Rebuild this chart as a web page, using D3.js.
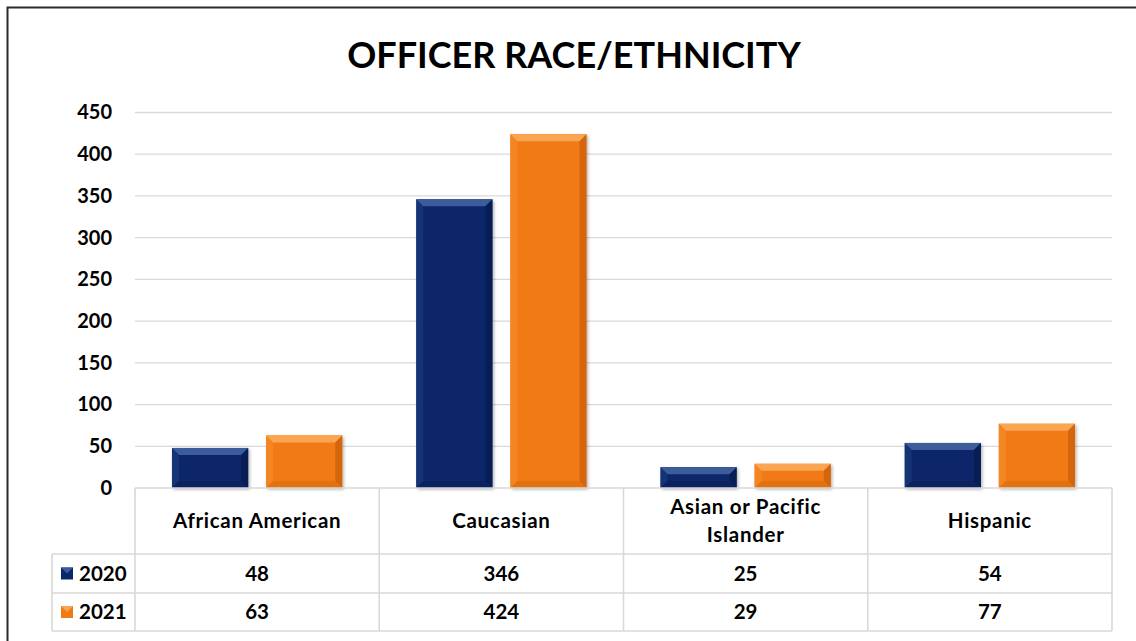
<!DOCTYPE html>
<html><head><meta charset="utf-8">
<script src="https://cdn.jsdelivr.net/npm/d3@7"></script>
<style>
html,body{margin:0;padding:0;background:#fff;}
text{font-family:Lato,"Open Sans",sans-serif;font-weight:700;fill:#000;}
</style></head>
<body><svg id="c" width="1136" height="641"></svg>
<script>
const categories = [["African American"], ["Caucasian"], ["Asian or Pacific", "Islander"], ["Hispanic"]];
const seriesNames = ["2020", "2021"];
const values2020 = [48, 346, 25, 54];
const values2021 = [63, 424, 29, 77];
const yTicks = [0, 50, 100, 150, 200, 250, 300, 350, 400, 450];
const chartTitle = "OFFICER RACE/ETHNICITY";

(function(){
const seriesValues = [values2020, values2021];
const colors = [
  {main:"#0a2869", top:"#3c5c9c", left:"#1a3a7c", right:"#061a4a", bottom:"#08205a"},
  {main:"#f17a15", top:"#f9a552", left:"#f58a2a", right:"#c65e08", bottom:"#d96a0c"}
];

const svg = d3.select("#c");
const pLeft = 135, pRight = 1112, pTop = 112.5, base = 488;

// border
svg.append("rect").attr("x",7.5).attr("y",7.5).attr("width",1140).attr("height",650)
  .attr("fill","none").attr("stroke","#2b2b2b").attr("stroke-width",2);

// title
svg.append("text").attr("x",574).attr("y",68).attr("text-anchor","middle")
  .style("font-size","36px").text(chartTitle);

const y = d3.scaleLinear().domain([0,450]).range([base, pTop]);
const x0 = d3.scaleBand().domain(d3.range(categories.length)).range([pLeft,pRight]).padding(0);
const x1 = d3.scaleBand().domain(d3.range(seriesNames.length)).range([0,x0.bandwidth()])
  .paddingInner(0.19).paddingOuter(0.393);

// gridlines
svg.append("g").selectAll("line").data(yTicks.filter(d=>d>0)).join("line")
  .attr("x1",pLeft).attr("x2",pRight).attr("y1",d=>y(d)).attr("y2",d=>y(d))
  .attr("stroke","#d9d9d9").attr("stroke-width",1.3);

// y axis labels
const yAxis = svg.append("g").attr("transform",`translate(${pLeft},0)`)
  .call(d3.axisLeft(y).tickValues(yTicks).tickSize(0).tickPadding(23));
yAxis.select(".domain").remove();
yAxis.selectAll("text").style("font-size","20px").style("font-family","Lato").style("font-weight","700").attr("fill","#000");

// shadow
const defs = svg.append("defs");
const f = defs.append("filter").attr("id","sh").attr("x","-20%").attr("y","-20%").attr("width","140%").attr("height","140%");
f.append("feDropShadow").attr("dx",1.5).attr("dy",1.5).attr("stdDeviation",1.8).attr("flood-color","#000").attr("flood-opacity",0.3);

// bars with bevel
const bev = 7;
categories.forEach((c,i)=>{
  seriesValues.forEach((vals,s)=>{
    const bx = x0(i)+x1(s), bw = x1.bandwidth();
    const by = y(vals[i]), bh = base - by;
    const col = colors[s];
    const g = svg.append("g");
    g.append("rect").attr("x",bx).attr("y",by).attr("width",bw).attr("height",bh)
      .attr("fill",col.main).attr("filter","url(#sh)");
    const b = Math.min(bev, bh/2, bw/2);
    g.append("path").attr("d",`M${bx},${by}L${bx+bw},${by}L${bx+bw-b},${by+b}L${bx+b},${by+b}Z`).attr("fill",col.top);
    g.append("path").attr("d",`M${bx},${by}L${bx+b},${by+b}L${bx+b},${base-b}L${bx},${base}Z`).attr("fill",col.left).attr("opacity",0.7);
    g.append("path").attr("d",`M${bx+bw},${by}L${bx+bw-b},${by+b}L${bx+bw-b},${base-b}L${bx+bw},${base}Z`).attr("fill",col.right).attr("opacity",0.7);
    g.append("path").attr("d",`M${bx},${base}L${bx+b},${base-b}L${bx+bw-b},${base-b}L${bx+bw},${base}Z`).attr("fill",col.bottom).attr("opacity",0.6);
  });
});

// data table
const rowH = [488, 554, 593, 631];
const legLeft = 52;
const tg = svg.append("g").attr("stroke","#d9d9d9").attr("stroke-width",1.6).attr("fill","none");
tg.append("line").attr("x1",pLeft).attr("x2",pRight).attr("y1",rowH[0]).attr("y2",rowH[0]);
[rowH[1],rowH[2],rowH[3]].forEach(yy=>tg.append("line").attr("x1",legLeft).attr("x2",pRight).attr("y1",yy).attr("y2",yy));
d3.range(categories.length+1).forEach(i=>{
  const xx = i<categories.length ? x0(i) : pRight;
  tg.append("line").attr("x1",xx).attr("x2",xx).attr("y1",rowH[0]).attr("y2",rowH[3]);
});
tg.append("line").attr("x1",legLeft).attr("x2",legLeft).attr("y1",rowH[1]).attr("y2",rowH[3]);

// category header labels
categories.forEach((lines,i)=>{
  const cx = x0(i)+x0.bandwidth()/2;
  const cy = (rowH[0]+rowH[1])/2;
  const lh = 28;
  const t = svg.append("text").attr("text-anchor","middle").style("font-size","20.5px").style("letter-spacing","0.7px");
  lines.forEach((ln,k)=>{
    t.append("tspan").attr("x",cx).attr("y",cy + (k-(lines.length-1)/2)*lh).attr("dy","0.35em").text(ln);
  });
});

// value rows and legend
seriesValues.forEach((vals,s)=>{
  const cy = (rowH[s+1]+rowH[s+2])/2;
  vals.forEach((v,i)=>{
    svg.append("text").attr("x",x0(i)+x0.bandwidth()/2).attr("y",cy).attr("dy","0.35em")
      .attr("text-anchor","middle").style("font-size","20.5px").text(v);
  });
  const kx = 61, ks = 12, ky = cy - ks/2;
  const col = colors[s];
  svg.append("rect").attr("x",kx).attr("y",ky).attr("width",ks).attr("height",ks).attr("fill",col.main);
  svg.append("path").attr("d",`M${kx},${ky}L${kx+ks},${ky}L${kx+ks/2},${ky+ks/2}Z`).attr("fill",col.top);
  svg.append("text").attr("x",79).attr("y",cy).attr("dy","0.35em").style("font-size","20.5px").text(seriesNames[s]);
});
})();
</script></body></html>
